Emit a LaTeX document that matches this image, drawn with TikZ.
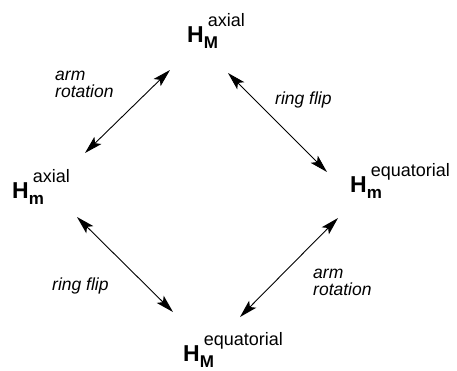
\documentclass[tikz,border=0pt]{standalone}
\usepackage{fontspec}
\setmainfont{Liberation Sans}
\usetikzlibrary{arrows.meta}
\newcommand\HHlab[2]{\fontsize{23}{23}\selectfont\bfseries H\makebox[0pt][l]{\raisebox{-6pt}{\fontsize{17}{17}\selectfont\bfseries #1}}\hspace{4pt}\raisebox{16pt}{\fontsize{18}{18}\selectfont\mdseries #2}}
\begin{document}
\begin{tikzpicture}[x=1pt,y=-1pt,
  state/.style={inner sep=0pt,anchor=base west},
  lbl/.style={inner sep=0pt,anchor=base west,align=left,font=\fontsize{17.5}{17}\selectfont\itshape},
  tip/.tip={Stealth[length=18pt,width=10pt,inset=4pt]},
  arr/.style={tip-tip,line width=0.9pt}]
\path[use as bounding box] (0,0) rectangle (457,370);
\node[state] (top) at (187,42) {\HHlab{M}{axial}};
\node[state] (left) at (12,198) {\HHlab{m}{axial}};
\node[state] (right) at (350,192) {\HHlab{m}{equatorial}};
\node[state] (bot) at (183,361) {\HHlab{M}{equatorial}};
\coordinate (tl1) at (170,70);
\coordinate (tl2) at (85,153);
\coordinate (tr1) at (228,73);
\coordinate (tr2) at (327,172);
\coordinate (bl1) at (77,217);
\coordinate (bl2) at (173,312);
\coordinate (br1) at (338,218);
\coordinate (br2) at (240,317);
\draw[arr] (tl1) -- (tl2);
\draw[arr] (tr1) -- (tr2);
\draw[arr] (bl1) -- (bl2);
\draw[arr] (br1) -- (br2);
\node[lbl] (l1) at (55,97) {arm\\rotation};
\node[lbl] (l2) at (275,104) {ring flip};
\node[lbl] (l3) at (52,290) {ring flip};
\node[lbl] (l4) at (313,295) {arm\\rotation};
\end{tikzpicture}
\end{document}
